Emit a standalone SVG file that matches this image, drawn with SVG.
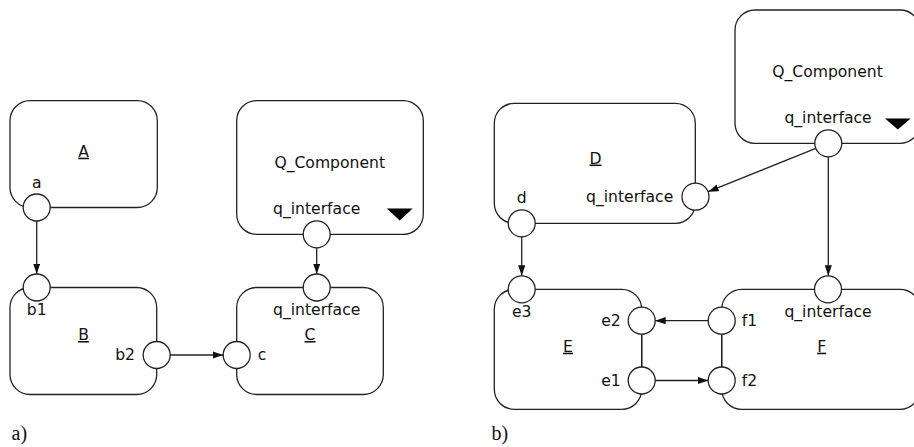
<svg xmlns="http://www.w3.org/2000/svg" width="914" height="447" viewBox="0 0 914 447">
  <defs>
    <marker id="arrow" markerUnits="userSpaceOnUse" markerWidth="11" markerHeight="8" refX="10.5" refY="3.6" orient="auto">
      <path d="M0,0 L10.5,3.6 L0,7.2 z" fill="#111"/>
    </marker>
  </defs>
  <style>
    .box { fill: #fff; stroke: #222; stroke-width: 1.3; }
    .port { fill: #fff; stroke: #222; stroke-width: 1.3; }
    .wire { fill: none; stroke: #222; stroke-width: 1.3; }
    .arr { fill: none; stroke: #222; stroke-width: 1.3; marker-end: url(#arrow); }
    .tri { fill: #000; }
    text { font-family: "DejaVu Sans", "Liberation Sans", sans-serif; font-size: 15.6px; fill: #111; }
    .mid { text-anchor: middle; }
    .end { text-anchor: end; }
    .name { text-anchor: middle; text-decoration: underline; }
    .cap { font-family: "Liberation Serif", "Times New Roman", serif; font-size: 20px; }
  </style>

  <!-- panel a -->
  <g id="node-A">
    <rect class="box" x="10" y="100.7" width="147.3" height="106.8" rx="20"/>
    <text class="name" x="83.6" y="156.7">A</text>
    <circle class="port" cx="36.7" cy="207.5" r="13.5"/>
    <text class="mid" x="36.7" y="187.7">a</text>
  </g>
  <g id="node-B">
    <rect class="box" x="10" y="287.5" width="146.7" height="107" rx="20"/>
    <text class="name" x="83.5" y="340">B</text>
    <circle class="port" cx="36.7" cy="287.5" r="13.5"/>
    <text class="mid" x="36.7" y="314.5">b1</text>
    <circle class="port" cx="156.7" cy="355" r="13.5"/>
    <text class="end" x="135" y="360">b2</text>
  </g>
  <g id="node-Qa">
    <rect class="box" x="236.7" y="100.7" width="186.6" height="133.6" rx="20"/>
    <text class="mid" x="329.7" y="167.7">Q_Component</text>
    <text class="mid" x="316.7" y="214">q_interface</text>
    <polygon class="tri" points="386.7,208.5 412.7,208.5 399.7,220.5"/>
    <circle class="port" cx="316.7" cy="234.3" r="13.5"/>
  </g>
  <g id="node-C">
    <rect class="box" x="236.7" y="287.5" width="146.6" height="107" rx="20"/>
    <text class="name" x="310" y="340">C</text>
    <circle class="port" cx="316.7" cy="287.5" r="13.5"/>
    <text class="mid" x="316.7" y="314.5">q_interface</text>
    <circle class="port" cx="236.7" cy="355" r="13.5"/>
    <text x="257.7" y="360">c</text>
  </g>
  <text class="cap" x="11.5" y="440">a)</text>

  <!-- panel b -->
  <g id="node-Qb">
    <rect class="box" x="735" y="10" width="185" height="133.3" rx="20"/>
    <text class="mid" x="827.5" y="77">Q_Component</text>
    <text class="mid" x="828" y="123.3">q_interface</text>
    <polygon class="tri" points="885,118.5 910.7,118.5 897.8,129.5"/>
    <circle class="port" cx="828.3" cy="143.3" r="13.5"/>
  </g>
  <g id="node-D">
    <rect class="box" x="494.3" y="103.3" width="201" height="120" rx="20"/>
    <text class="name" x="595.5" y="163.5">D</text>
    <circle class="port" cx="521.7" cy="223.3" r="13.5"/>
    <text class="mid" x="521.7" y="203.3">d</text>
    <circle class="port" cx="695.5" cy="196.7" r="13.5"/>
    <text class="end" x="673.3" y="202.3">q_interface</text>
  </g>
  <g id="node-E">
    <rect class="box" x="494.3" y="289.3" width="147.4" height="120" rx="20"/>
    <text class="name" x="568" y="351.7">E</text>
    <circle class="port" cx="521.7" cy="289.3" r="13.5"/>
    <text class="mid" x="521.7" y="316.7">e3</text>
    <circle class="port" cx="641.7" cy="320.7" r="13.5"/>
    <text class="end" x="620.7" y="325.7">e2</text>
    <circle class="port" cx="641.7" cy="380.5" r="13.5"/>
    <text class="end" x="620.7" y="385.7">e1</text>
  </g>
  <g id="node-F">
    <rect class="box" x="721.7" y="289.3" width="198.3" height="120" rx="20"/>
    <text class="name" x="821.7" y="351.7">F</text>
    <circle class="port" cx="828" cy="289.3" r="13.5"/>
    <text class="mid" x="828" y="316.7">q_interface</text>
    <circle class="port" cx="721.7" cy="320.7" r="13.5"/>
    <text x="741.7" y="325.7">f1</text>
    <circle class="port" cx="721.7" cy="380.5" r="13.5"/>
    <text x="741.7" y="385.7">f2</text>
  </g>
  <text class="cap" x="491.5" y="440">b)</text>

  <!-- connectors -->
  <g id="connectors">
    <line class="arr" x1="36.7" y1="221" x2="36.7" y2="274"/>
    <line class="arr" x1="170.2" y1="355" x2="223.2" y2="355"/>
    <line class="arr" x1="316.7" y1="247.8" x2="316.7" y2="274"/>
    <line class="arr" x1="815.8" y1="148.3" x2="708.2" y2="191.7"/>
    <line class="arr" x1="828.3" y1="156.8" x2="828.3" y2="275.8"/>
    <line class="arr" x1="521.7" y1="236.8" x2="521.7" y2="275.8"/>
    <line class="arr" x1="708.2" y1="320.7" x2="655.2" y2="320.7"/>
    <line class="arr" x1="655.2" y1="380.5" x2="708.2" y2="380.5"/>
    <line class="wire" x1="641.7" y1="334.2" x2="641.7" y2="367"/>
    <line class="wire" x1="721.7" y1="334.2" x2="721.7" y2="367"/>
  </g>
</svg>
